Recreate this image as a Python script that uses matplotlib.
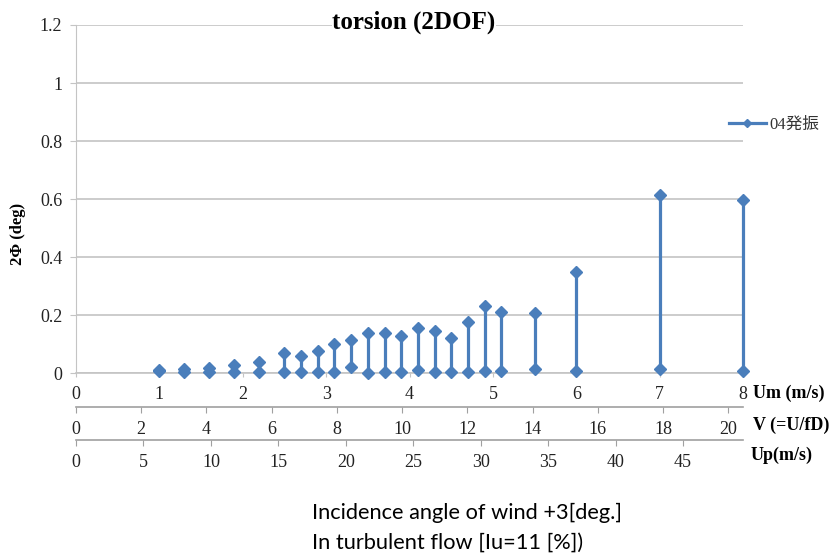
import matplotlib
matplotlib.use('Agg')
import matplotlib.pyplot as plt
from matplotlib.lines import Line2D
import numpy as np

# data (x in Um [m/s])
um = [1.0, 1.3, 1.6, 1.9, 2.2, 2.5, 2.7, 2.9, 3.1, 3.3, 3.5, 3.7,
      3.9, 4.1, 4.3, 4.5, 4.7, 4.9, 5.1, 5.5, 6.0, 7.0, 8.0]
amp_max = [0.012, 0.013, 0.016, 0.026, 0.039, 0.068, 0.060, 0.076, 0.099, 0.114, 0.137, 0.137,
           0.128, 0.154, 0.146, 0.120, 0.177, 0.232, 0.209, 0.208, 0.347, 0.614, 0.597]
amp_min = [0.006, 0.004, 0.005, 0.005, 0.003, 0.003, 0.003, 0.003, 0.003, 0.022, 0.000, 0.003,
           0.003, 0.010, 0.005, 0.005, 0.005, 0.007, 0.007, 0.013, 0.008, 0.013, 0.008]

um_ticks = [0, 1, 2, 3, 4, 5, 6, 7, 8]
v_ticks = [0, 2, 4, 6, 8, 10, 12, 14, 16, 18, 20]
up_ticks = [0, 5, 10, 15, 20, 25, 30, 35, 40, 45]
y_ticks = [0, 0.2, 0.4, 0.6, 0.8, 1, 1.2]
y_labels = ['0', '0.2', '0.4', '0.6', '0.8', '1', '1.2']

# conversion factors Um -> V, Um -> Up
K_V = 2.557
K_UP = 6.18

blue = '#4A7EBB'
grid = '#C4C4C4'
serif = ['Liberation Serif', 'DejaVu Serif']

fig = plt.figure(figsize=(8.3, 5.58), dpi=100)
ax = fig.add_axes([0.0916, 0.3315, 0.8036, 0.6237])

ax.vlines(um, amp_min, amp_max, color=blue, lw=2.3, zorder=3, clip_on=False)
ax.plot(um, amp_max, 'D', color=blue, ms=6.3, ls='none', zorder=4, clip_on=False)
ax.plot(um, amp_min, 'D', color=blue, ms=6.3, ls='none', zorder=4, clip_on=False)

ax.set_xlim(0, 8)
ax.set_ylim(0, 1.2)
ax.set_yticks(y_ticks)
ax.set_yticklabels(y_labels)
ax.set_xticks(um_ticks)
ax.grid(axis='y', color=grid, lw=1.2)
ax.set_axisbelow(True)
for s in ['top', 'right']:
    ax.spines[s].set_visible(False)
ax.spines['left'].set_color(grid)
ax.spines['bottom'].set_color(grid)
ax.spines['bottom'].set_linewidth(1.2)
ax.tick_params(axis='y', length=4, color=grid, pad=6, labelsize=13, labelcolor='#222222')
ax.tick_params(axis='x', length=3, color=grid, pad=6, labelsize=13, labelcolor='#222222')
for lab in ax.get_xticklabels() + ax.get_yticklabels():
    lab.set_family(serif)

# second and third x axes
for loc, k, ticks in [(-0.0977, K_V, v_ticks), (-0.1925, K_UP, up_ticks)]:
    sec = ax.secondary_xaxis(loc, functions=(lambda x, k=k: x * k, lambda x, k=k: x / k))
    sec.set_xticks(ticks)
    sec.spines['bottom'].set_color('#A0A0A0')
    sec.spines['bottom'].set_linewidth(1.2)
    sec.tick_params(length=4, color='#A0A0A0', pad=6, labelsize=13, labelcolor='#222222')
    for lab in sec.get_xticklabels():
        lab.set_family(serif)

# axis names on the right
fig.text(753/830, 1 - 393/558, 'Um (m/s)', family=serif, weight='bold', fontsize=13, va='center')
fig.text(753/830, 1 - 425/558, 'V (=U/fD)', family=serif, weight='bold', fontsize=13, va='center')
fig.text(751/830, 1 - 455/558, 'Up(m/s)', family=serif, weight='bold', fontsize=13, va='center')

fig.text(18/830, 1 - 234/558, '2Φ (deg)', family=serif, weight='bold', fontsize=12,
         rotation=90, ha='center', va='center')

fig.text(414/830, 1 - 22/558, 'torsion (2DOF)', family=serif, weight='bold', fontsize=18,
         ha='center', va='center', bbox=dict(facecolor='white', edgecolor='none', pad=0))

handle = Line2D([], [], color=blue, lw=2.3, marker='D', ms=4.5)
leg = ax.legend([handle], ['04発振'], loc='center left', frameon=False,
                bbox_to_anchor=(729/830, 1 - 125/558), bbox_transform=fig.transFigure,
                handlelength=2.2, handletextpad=0.2, borderpad=0, borderaxespad=0,
                prop={'family': ['Liberation Serif', 'Noto Sans CJK JP'], 'size': 12})
for t in leg.get_texts():
    t.set_color('#333333')

fig.text(312/830, 1 - 513/558, 'Incidence angle of wind +3[deg.]', family=['Lato', 'DejaVu Sans'],
         fontsize=15.7, va='center')
fig.text(312/830, 1 - 543/558, 'In turbulent flow [Iu=11 [%])', family=['Lato', 'DejaVu Sans'],
         fontsize=15.7, va='center')

fig.savefig('out.png', dpi=100)
